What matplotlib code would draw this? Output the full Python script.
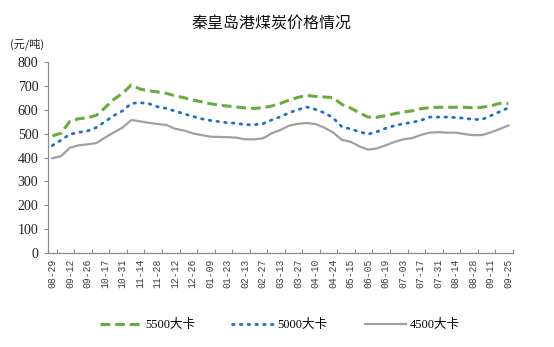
import matplotlib
matplotlib.use("Agg")
import matplotlib.pyplot as plt
from matplotlib.font_manager import FontProperties
import numpy as np

plt.rcParams['font.family'] = ['Noto Sans CJK SC', 'DejaVu Sans']

# Weekly prices (元/吨), one value per week
tick_labels = ["08-29", "09-12", "09-26", "10-17", "10-31", "11-14", "11-28",
               "12-12", "12-26", "01-09", "01-23", "02-13", "02-27", "03-13",
               "03-27", "04-10", "04-24", "05-15", "06-05", "06-19", "07-03",
               "07-17", "07-31", "08-14", "08-28", "09-11", "09-25"]

price_5500 = [490, 502, 552, 562, 566, 576, 608, 643, 668, 703,
              686, 679, 674, 668, 658, 650, 640, 633, 625, 619,
              615, 611, 607, 605, 608, 615, 626, 640, 651, 660,
              655, 653, 650, 622, 607, 587, 569, 568, 575, 583,
              590, 595, 604, 608, 610, 610, 610, 610, 608, 610,
              616, 626, 626]

price_5000 = [450, 473, 497, 505, 511, 525, 550, 575, 595, 626,
              629, 625, 612, 605, 594, 583, 572, 562, 555, 550,
              545, 543, 537, 537, 541, 557, 570, 587, 600, 611,
              601, 587, 566, 529, 519, 508, 497, 508, 522, 533,
              541, 547, 555, 569, 569, 569, 567, 564, 559, 559,
              575, 591, 608]

price_4500 = [397, 406, 441, 451, 455, 460, 483, 505, 525, 557,
              551, 545, 540, 536, 520, 513, 501, 494, 487, 486,
              485, 483, 476, 476, 480, 501, 515, 533, 541, 544,
              540, 525, 505, 474, 466, 447, 433, 438, 451, 465,
              476, 481, 494, 504, 506, 504, 504, 498, 493, 494,
              505, 519, 534]

series_names = ["5500大卡", "5000大卡", "4500大卡"]

fig = plt.figure(figsize=(5.54, 3.47), dpi=100)
ax = fig.add_axes([0.0866, 0.270, 0.839, 0.552])

x = np.arange(len(price_5500))
ax.plot(x, price_5500, color='#6aac3c', lw=2.2, ls=(0, (3.2, 1.6)),
        label=series_names[0])
ax.plot(x, price_5000, color='#1f6fd1', lw=2.0, ls=(0, (0.6, 2.2)),
        dash_capstyle='round', label=series_names[1])
ax.plot(x, price_4500, color='#a0a0a0', lw=1.6, label=series_names[2])

ax.set_xlim(-0.5, len(x) - 0.5)
ax.set_ylim(0, 800)
ax.set_yticks(np.arange(0, 801, 100))

ax.set_xticks(np.arange(0, len(x), 2))
ax.set_xticklabels(tick_labels, rotation=90, fontsize=7,
                   family=['Liberation Mono', 'DejaVu Sans Mono'])
ax.set_xticks(np.arange(0.5, len(x), 2), minor=True)
ax.tick_params(axis='x', which='major', length=0, pad=4, labelcolor='#404040')
ax.tick_params(axis='x', which='minor', direction='in', length=3,
               color='#8c8c8c', width=0.8)
ax.tick_params(axis='y', direction='out', length=3, color='#8c8c8c',
               width=0.8, pad=4, labelcolor='#202020', labelsize=10,
               labelfontfamily='Liberation Serif')

for side in ['top', 'right']:
    ax.spines[side].set_visible(False)
for side in ['left', 'bottom']:
    ax.spines[side].set_color('#8c8c8c')
    ax.spines[side].set_linewidth(0.9)

fig.text(0.49, 0.93, "秦皇岛港煤炭价格情况", ha='center', va='center',
         fontsize=11.5, color='#111111')
fig.text(0.018, 0.872, "(元/吨)", ha='left', va='center', fontsize=8,
         color='#222222')

legend_font = FontProperties(family=['Liberation Serif', 'Noto Sans CJK SC'],
                             size=9)
fig.legend(loc='center', bbox_to_anchor=(0.505, 0.063), ncol=3,
           frameon=False, prop=legend_font, handlelength=3.3,
           handletextpad=0.3, columnspacing=3.0)

fig.savefig("out.png", dpi=100)
